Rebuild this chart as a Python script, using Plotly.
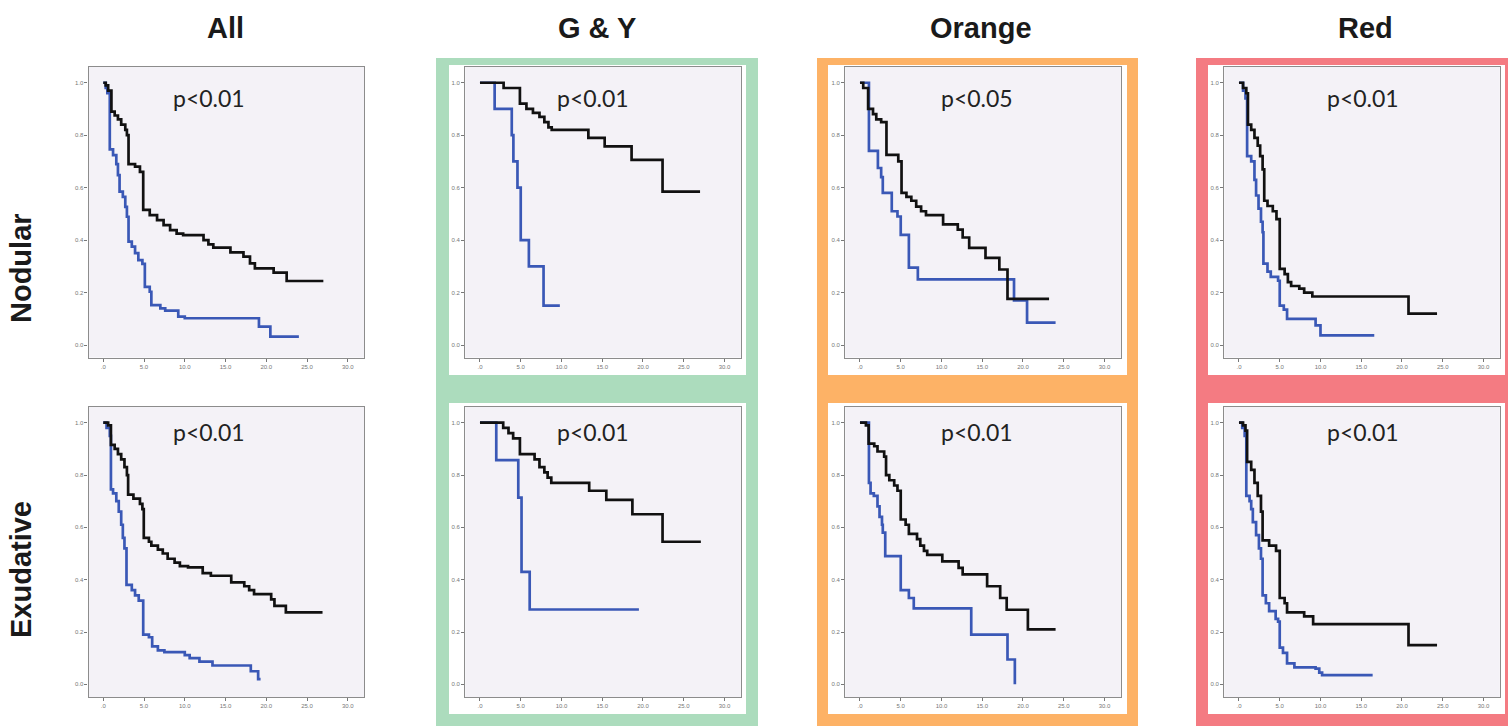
import plotly.graph_objects as go

W, H = 1508, 726

col_titles = ["All", "G & Y", "Orange", "Red"]
row_titles = ["Nodular", "Exudative"]
p_values = [["p<0.01", "p<0.01", "p<0.05", "p<0.01"],
            ["p<0.01", "p<0.01", "p<0.01", "p<0.01"]]

x_tickvals = [0, 5, 10, 15, 20, 25, 30]
x_ticktext = [".0", "5.0", "10.0", "15.0", "20.0", "25.0", "30.0"]
y_tickvals = [0, 0.2, 0.4, 0.6, 0.8, 1.0]
y_ticktext = ["0.0", "0.2", "0.4", "0.6", "0.8", "1.0"]

# ---- Nodular / All ----
all_nod_black_t = [0, 0.3, 0.6, 1.0, 1.4, 1.8, 2.2, 2.7, 2.9, 3.1, 3.9, 4.5, 4.9, 5.7, 6.6, 7.4, 8.2, 9.0, 9.8, 12.3, 12.9, 13.5, 15.6, 17.2, 18.0, 18.6, 20.9, 22.5, 27.0]
all_nod_black_s = [1.0, 0.99, 0.97, 0.89, 0.875, 0.86, 0.84, 0.82, 0.80, 0.69, 0.68, 0.66, 0.515, 0.495, 0.476, 0.457, 0.438, 0.425, 0.419, 0.40, 0.384, 0.371, 0.353, 0.337, 0.311, 0.292, 0.276, 0.244, 0.244]
all_nod_blue_t = [0, 0.3, 0.5, 0.8, 1.2, 1.6, 1.8, 2.0, 2.4, 2.7, 2.9, 3.1, 3.5, 3.9, 4.3, 4.8, 5.1, 5.7, 5.9, 7.0, 7.6, 9.2, 10.0, 19.1, 20.5, 24.0]
all_nod_blue_s = [1.0, 0.98, 0.96, 0.746, 0.724, 0.69, 0.648, 0.585, 0.565, 0.527, 0.489, 0.394, 0.375, 0.35, 0.324, 0.309, 0.222, 0.203, 0.152, 0.14, 0.131, 0.108, 0.102, 0.07, 0.032, 0.032]

# ---- Nodular / G & Y ----
gy_nod_black_t = [0, 2.9, 4.9, 5.7, 6.5, 7.3, 7.9, 8.4, 8.8, 13.3, 15.3, 18.6, 22.4, 27.0]
gy_nod_black_s = [1.0, 0.98, 0.92, 0.90, 0.885, 0.87, 0.85, 0.83, 0.82, 0.79, 0.757, 0.706, 0.585, 0.585]
gy_nod_blue_t = [0, 1.8, 3.9, 4.1, 4.6, 5.0, 6.0, 7.8, 9.8]
gy_nod_blue_s = [1.0, 0.9, 0.8, 0.7, 0.6, 0.4, 0.3, 0.15, 0.15]

# ---- Nodular / Orange ----
or_nod_black_t = [0, 0.4, 1.0, 1.6, 2.0, 2.6, 3.25, 4.7, 5.1, 5.7, 6.3, 6.9, 7.5, 8.1, 10.2, 12.0, 12.6, 13.4, 15.4, 17.1, 18.1, 23.2]
or_nod_black_s = [1.0, 0.98, 0.90, 0.88, 0.86, 0.85, 0.725, 0.70, 0.58, 0.565, 0.55, 0.528, 0.51, 0.495, 0.46, 0.44, 0.41, 0.37, 0.332, 0.288, 0.176, 0.176]
or_nod_blue_t = [0, 1.1, 2.2, 2.6, 2.8, 3.9, 4.6, 5.0, 6.0, 7.1, 18.9, 20.5, 24.0]
or_nod_blue_s = [1.0, 0.74, 0.675, 0.64, 0.58, 0.51, 0.49, 0.42, 0.295, 0.25, 0.17, 0.085, 0.085]

# ---- Nodular / Red ----
red_nod_black_t = [0, 0.5, 0.9, 1.1, 1.5, 1.9, 2.3, 2.6, 2.9, 3.1, 3.5, 4.15, 4.6, 5.0, 5.6, 6.0, 6.4, 7.4, 8.0, 9.0, 20.8, 24.3]
red_nod_black_s = [1.0, 0.98, 0.96, 0.84, 0.82, 0.79, 0.76, 0.72, 0.67, 0.55, 0.53, 0.51, 0.48, 0.29, 0.27, 0.24, 0.225, 0.215, 0.20, 0.185, 0.12, 0.12]
red_nod_blue_t = [0, 0.5, 0.8, 1.0, 1.5, 1.9, 2.1, 2.4, 2.7, 2.9, 3.0, 3.5, 3.9, 4.8, 5.0, 5.5, 5.9, 9.4, 10.0, 16.6]
red_nod_blue_s = [1.0, 0.97, 0.94, 0.72, 0.70, 0.63, 0.57, 0.52, 0.47, 0.43, 0.31, 0.28, 0.26, 0.245, 0.15, 0.135, 0.10, 0.075, 0.037, 0.037]

# ---- Exudative / All ----
all_exu_black_t = [0, 0.6, 0.94, 1.4, 1.8, 2.2, 2.6, 2.9, 3.05, 3.7, 4.5, 4.8, 4.97, 5.6, 5.9, 6.7, 7.3, 7.9, 8.75, 9.4, 10.4, 12.2, 13.2, 15.7, 17.3, 17.9, 18.5, 20.6, 21.0, 22.4, 26.9]
all_exu_black_s = [1.0, 0.99, 0.915, 0.90, 0.88, 0.86, 0.83, 0.80, 0.725, 0.71, 0.69, 0.67, 0.56, 0.545, 0.53, 0.515, 0.50, 0.48, 0.465, 0.452, 0.447, 0.425, 0.415, 0.39, 0.375, 0.36, 0.345, 0.325, 0.30, 0.275, 0.275]
all_exu_blue_t = [0, 0.4, 0.8, 0.94, 1.2, 1.6, 1.9, 2.2, 2.4, 2.6, 2.85, 3.5, 3.9, 4.35, 4.9, 5.6, 6.0, 6.7, 7.5, 10.0, 10.6, 11.8, 13.4, 18.1, 19.0, 19.3]
all_exu_blue_s = [1.0, 0.98, 0.95, 0.745, 0.73, 0.70, 0.66, 0.61, 0.56, 0.52, 0.38, 0.36, 0.34, 0.32, 0.19, 0.18, 0.145, 0.13, 0.123, 0.112, 0.10, 0.087, 0.072, 0.05, 0.02, 0.02]

# ---- Exudative / G & Y ----
gy_exu_black_t = [0, 2.85, 3.5, 4.07, 4.9, 6.7, 7.3, 7.9, 8.3, 8.75, 13.4, 15.5, 18.7, 22.4, 27.1]
gy_exu_black_s = [1.0, 0.98, 0.96, 0.94, 0.88, 0.86, 0.83, 0.81, 0.79, 0.77, 0.74, 0.705, 0.65, 0.545, 0.545]
gy_exu_blue_t = [0, 2.0, 4.7, 5.1, 6.1, 19.5]
gy_exu_blue_s = [1.0, 0.857, 0.714, 0.43, 0.286, 0.286]

# ---- Exudative / Orange ----
or_exu_black_t = [0, 0.73, 1.06, 1.75, 2.15, 2.97, 3.2, 3.6, 4.2, 4.6, 5.0, 5.6, 6.0, 7.0, 7.4, 7.85, 8.25, 10.1, 12.1, 12.6, 15.6, 17.2, 18.0, 20.6, 24.0]
or_exu_black_s = [1.0, 0.99, 0.92, 0.91, 0.89, 0.87, 0.80, 0.78, 0.76, 0.74, 0.63, 0.61, 0.575, 0.555, 0.53, 0.51, 0.495, 0.47, 0.445, 0.42, 0.375, 0.33, 0.285, 0.21, 0.21]
or_exu_blue_t = [0, 1.1, 1.3, 1.7, 2.15, 2.4, 2.7, 2.8, 3.1, 5.0, 6.0, 6.6, 13.65, 18.1, 19.0]
or_exu_blue_s = [1.0, 0.77, 0.73, 0.72, 0.68, 0.64, 0.61, 0.58, 0.49, 0.36, 0.33, 0.29, 0.19, 0.095, 0.0]

# ---- Exudative / Red ----
red_exu_black_t = [0, 0.5, 0.8, 1.0, 1.5, 1.9, 2.3, 2.7, 2.9, 3.7, 4.55, 5.0, 5.6, 5.9, 8.0, 9.1, 20.8, 24.3]
red_exu_black_s = [1.0, 0.99, 0.97, 0.85, 0.82, 0.77, 0.72, 0.66, 0.55, 0.53, 0.51, 0.33, 0.31, 0.275, 0.26, 0.23, 0.15, 0.15]
red_exu_blue_t = [0, 0.4, 0.7, 0.9, 1.3, 1.5, 1.7, 2.1, 2.45, 2.7, 2.9, 3.3, 3.7, 4.5, 4.8, 5.0, 5.4, 5.9, 6.8, 9.4, 9.85, 10.2, 16.4]
red_exu_blue_s = [1.0, 0.98, 0.95, 0.72, 0.70, 0.67, 0.62, 0.57, 0.52, 0.48, 0.34, 0.31, 0.28, 0.25, 0.24, 0.14, 0.12, 0.08, 0.065, 0.06, 0.045, 0.035, 0.035]

panels = [
    [(all_nod_black_t, all_nod_black_s, all_nod_blue_t, all_nod_blue_s),
     (gy_nod_black_t, gy_nod_black_s, gy_nod_blue_t, gy_nod_blue_s),
     (or_nod_black_t, or_nod_black_s, or_nod_blue_t, or_nod_blue_s),
     (red_nod_black_t, red_nod_black_s, red_nod_blue_t, red_nod_blue_s)],
    [(all_exu_black_t, all_exu_black_s, all_exu_blue_t, all_exu_blue_s),
     (gy_exu_black_t, gy_exu_black_s, gy_exu_blue_t, gy_exu_blue_s),
     (or_exu_black_t, or_exu_black_s, or_exu_blue_t, or_exu_blue_s),
     (red_exu_black_t, red_exu_black_s, red_exu_blue_t, red_exu_blue_s)],
]

# ---- styling / geometry ----
BLACK = "#111111"
BLUE = "#3a58b6"
PLOT_BG = "#f4f2f7"
FRAME_COLORS = [None, "#acdcbd", "#fdb266", "#f47b82"]
col_left_px = [88.6, 465.3, 845.3, 1224.3]
col_width_px = 275.5
row_top_px = [67.0, 407.0]
row_height_px = [290.6, 289.9]
title_x_px = [225, 597, 981, 1365]
p_x_px = [209, 593, 977, 1363]
p_y_px = [98, 432]
frame_boxes_px = [None, (436, 758), (817, 1138), (1196, 1508)]
inset_boxes_px = [None, (449, 746), (828, 1127), (1208, 1505)]
inset_rows_px = [(65, 375), (403, 714)]
X_RANGE = [-1.8, 32.0]
Y_RANGE = [-0.048, 1.06]

fig = go.Figure()
shapes = []
annotations = []


def px_x(v):
    return v / W


def px_y(v):
    return 1 - v / H


# coloured frames
for c in range(1, 4):
    x0, x1 = frame_boxes_px[c]
    shapes.append(dict(type="rect", xref="paper", yref="paper",
                       x0=px_x(x0), x1=px_x(x1), y0=px_y(H), y1=px_y(58),
                       fillcolor=FRAME_COLORS[c], line=dict(width=0), layer="below"))
    for (t, b) in inset_rows_px:
        ix0, ix1 = inset_boxes_px[c]
        shapes.append(dict(type="rect", xref="paper", yref="paper",
                           x0=px_x(ix0), x1=px_x(ix1), y0=px_y(b), y1=px_y(t),
                           fillcolor="white", line=dict(width=0), layer="below"))

idx = 0
for r in range(2):
    for c in range(4):
        idx += 1
        xa = "x" if idx == 1 else f"x{idx}"
        ya = "y" if idx == 1 else f"y{idx}"
        bt, bs, ut, us = panels[r][c]
        fig.add_trace(go.Scatter(x=ut, y=us, mode="lines", line=dict(color=BLUE, width=2.7, shape="hv"),
                                 xaxis=xa, yaxis=ya, showlegend=False, hoverinfo="x+y"))
        fig.add_trace(go.Scatter(x=bt, y=bs, mode="lines", line=dict(color=BLACK, width=2.7, shape="hv"),
                                 xaxis=xa, yaxis=ya, showlegend=False, hoverinfo="x+y"))
        l = col_left_px[c]
        t = row_top_px[r]
        xd = [px_x(l), px_x(l + col_width_px)]
        yd = [px_y(t + row_height_px[r]), px_y(t)]
        xkey = "xaxis" if idx == 1 else f"xaxis{idx}"
        ykey = "yaxis" if idx == 1 else f"yaxis{idx}"
        fig.layout[xkey] = dict(domain=xd, range=X_RANGE, anchor=ya, showgrid=False, zeroline=False,
                                showline=True, mirror=True, linecolor="#8c8c8c", linewidth=1.3,
                                ticks="outside", ticklen=3, tickwidth=1, tickcolor="#777",
                                tickvals=x_tickvals, ticktext=x_ticktext,
                                tickfont=dict(size=6, color="#777", family="Liberation Sans"))
        fig.layout[ykey] = dict(domain=yd, range=Y_RANGE, anchor=xa, showgrid=False, zeroline=False,
                                showline=True, mirror=True, linecolor="#8c8c8c", linewidth=1.3,
                                ticks="outside", ticklen=3, tickwidth=1, tickcolor="#777",
                                tickvals=y_tickvals, ticktext=y_ticktext,
                                tickfont=dict(size=6, color="#777", family="Liberation Sans"))
        # plot background
        shapes.append(dict(type="rect", xref="paper", yref="paper",
                           x0=xd[0], x1=xd[1], y0=yd[0], y1=yd[1],
                           fillcolor=PLOT_BG, line=dict(width=0), layer="below"))
        annotations.append(dict(text=p_values[r][c], xref="paper", yref="paper",
                                x=px_x(p_x_px[c]), y=px_y(p_y_px[r]), xanchor="center", yanchor="middle",
                                showarrow=False, font=dict(family="Lato", size=23, color="#222")))

for c in range(4):
    annotations.append(dict(text=f"<b>{col_titles[c]}</b>", xref="paper", yref="paper",
                            x=px_x(title_x_px[c]), y=px_y(28), xanchor="center", yanchor="middle",
                            showarrow=False, font=dict(family="Liberation Sans", size=29, color="#1a1a1a")))

row_label_y_px = [268, 570]
for r in range(2):
    annotations.append(dict(text=f"<b>{row_titles[r]}</b>", xref="paper", yref="paper",
                            x=px_x(21), y=px_y(row_label_y_px[r]), xanchor="center", yanchor="middle",
                            textangle=-90, showarrow=False,
                            font=dict(family="Liberation Sans", size=29, color="#1a1a1a")))

fig.update_layout(width=W, height=H, margin=dict(l=0, r=0, t=0, b=0),
                  paper_bgcolor="white", plot_bgcolor="rgba(0,0,0,0)",
                  shapes=shapes, annotations=annotations, showlegend=False)

fig.write_html("out.html", config={"displayModeBar": False},
               post_script="document.body.style.margin='0';document.body.style.overflow='hidden';")
